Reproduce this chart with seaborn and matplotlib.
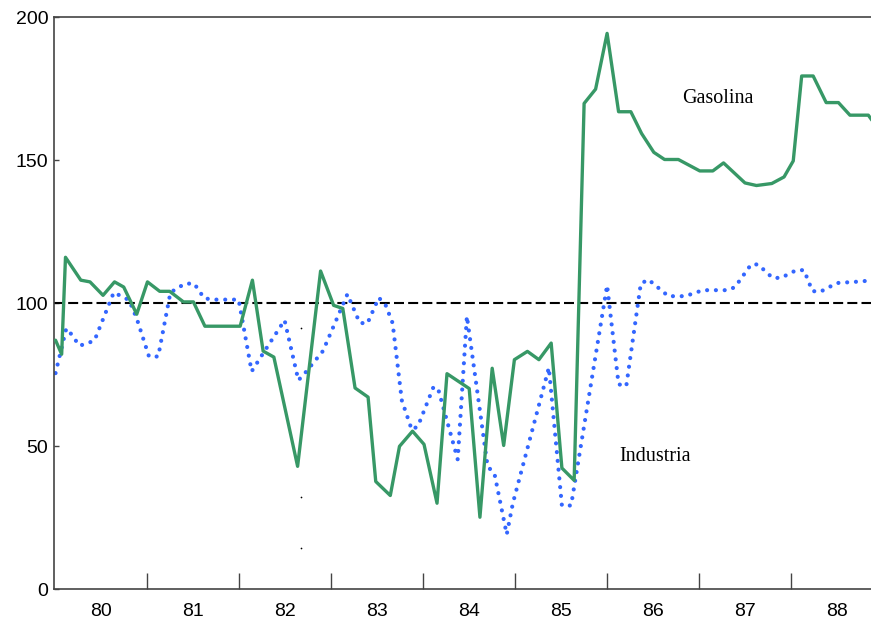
import matplotlib
matplotlib.use("Agg")
import matplotlib.pyplot as plt
import seaborn as sns
import numpy as np

sns.set_theme(style="white")
plt.rcParams["font.family"] = ["Liberation Sans Narrow", "Liberation Sans", "DejaVu Sans"]

# months since Jan 1980
gas_mes = [0.0, 0.8, 1.3, 3.3, 4.5, 6.2, 7.7, 8.9, 10.6, 12.0,
           13.6, 14.9, 16.7, 18.0, 19.5, 24.1, 25.7, 27.1, 28.5, 31.6,
           34.6, 36.3, 37.5, 39.1, 40.8, 41.8, 43.7, 44.9, 46.6, 48.1,
           49.8, 51.1, 54.0, 55.4, 57.0, 58.5, 59.9, 61.6, 63.1, 64.7,
           66.1, 67.7, 69.0, 70.5, 72.0, 73.5, 75.1, 76.5, 78.1, 79.5,
           81.3, 84.1, 85.8, 87.2, 90.0, 91.5, 93.5, 95.1, 96.3, 97.4,
           98.9, 100.6, 102.2, 103.7, 106.1, 107.5]
gasolina = [87.0, 82.1, 116.0, 108.0, 107.4, 102.7, 107.4, 105.6, 96.1, 107.4,
            104.1, 104.1, 100.4, 100.4, 91.9, 91.9, 108.0, 83.2, 81.1, 42.9,
            111.2, 99.2, 98.1, 70.3, 67.1, 37.6, 32.7, 49.9, 55.2, 50.6,
            30.0, 75.3, 70.1, 25.1, 77.2, 50.2, 80.2, 83.1, 80.2, 86.0,
            42.3, 38.0, 169.8, 174.8, 194.3, 166.9, 166.9, 159.3, 152.7, 150.2,
            150.2, 146.2, 146.2, 149.0, 142.0, 141.1, 141.8, 144.1, 149.7, 179.4,
            179.4, 170.1, 170.1, 165.7, 165.7, 160.5]

ind_mes = [0.0, 1.4, 2.1, 3.1, 4.1, 5.1, 7.6, 8.5, 9.6, 10.6,
           12.2, 13.4, 15.0, 16.9, 18.1, 19.4, 20.5, 23.9, 25.6, 27.0,
           29.9, 31.7, 32.5, 34.9, 38.1, 39.7, 40.7, 42.2, 43.1, 44.0,
           45.2, 46.5, 47.3, 49.3, 49.9, 52.5, 53.7, 56.4, 57.3, 58.9,
           59.7, 64.4, 66.1, 67.3, 72.0, 73.5, 74.5, 76.4, 77.4, 80.0,
           82.2, 84.5, 87.8, 88.7, 90.8, 91.7, 93.6, 94.7, 96.7, 97.7,
           98.8, 99.8, 102.0, 105.4, 107.6]
industria = [75.5, 91.1, 89.0, 85.1, 85.8, 87.0, 103.7, 102.5, 101.0, 94.6,
             81.3, 81.3, 103.7, 106.8, 106.8, 101.7, 101.2, 101.2, 76.1, 82.0,
             94.0, 73.0, 75.3, 83.2, 103.1, 93.1, 92.8, 101.9, 99.2, 93.0,
             66.0, 55.7, 56.9, 70.4, 70.4, 45.3, 95.4, 42.9, 40.3, 19.1,
             30.0, 77.4, 29.2, 29.2, 106.2, 71.6, 70.9, 106.8, 108.2, 102.4,
             102.4, 104.5, 104.5, 105.6, 113.5, 113.5, 108.8, 108.8, 111.5, 111.5,
             104.2, 103.9, 107.0, 107.6, 108.5]

# stray specks in the source image
speck_mes = [32.0, 32.0, 32.0]
speck_val = [91.3, 32.2, 14.5]

anos = ["80", "81", "82", "83", "84", "85", "86", "87", "88"]
referencia = 100

fig = plt.figure(figsize=(8.71, 6.21), dpi=100)
ax = fig.add_axes([0.062, 0.0515, 0.938, 0.921])

ax.axhline(referencia, color="black", lw=1.5, dashes=(4.8, 2.0), zorder=1)

sns.lineplot(x=gas_mes, y=gasolina, ax=ax, color="#379866", lw=2.4, zorder=3)
sns.lineplot(x=ind_mes, y=industria, ax=ax, color="#3366ff", lw=3.0, zorder=2,
             linestyle=(0, (0.01, 2.1)), dash_capstyle="round")
ax.scatter(speck_mes, speck_val, s=1.5, color="black", lw=0, zorder=4)

ax.text(86.5, 171.5, "Gasolina", family="Liberation Serif", fontsize=14.5,
        ha="center", va="center", color="black")
ax.text(78.2, 46.4, "Industria", family="Liberation Serif", fontsize=14.5,
        ha="center", va="center", color="black")

ax.set_xlim(-0.2, 106.45)
ax.set_ylim(0, 200)

ax.set_xticks(np.arange(12, 108, 12))
ax.set_xticklabels([])
ax.set_xticks(np.arange(6, 108, 12), minor=True)
ax.set_xticklabels(anos, minor=True)
ax.tick_params(axis="x", which="major", direction="in", length=11.5, width=1.0,
               color="#444444", bottom=True)
ax.tick_params(axis="x", which="minor", length=0, pad=10, labelsize=14,
               labelcolor="black")

ax.set_yticks([0, 50, 100, 150, 200])
ax.tick_params(axis="y", direction="in", length=3.5, width=1.0, color="#444444",
               left=True, pad=4, labelsize=14, labelcolor="black")

for lado in ["left", "bottom", "top"]:
    ax.spines[lado].set_color("#444444")
    ax.spines[lado].set_linewidth(1.2)
ax.spines["right"].set_visible(False)

ax.set_xlabel("")
ax.set_ylabel("")
ax.grid(False)

fig.savefig("out.png", dpi=100)
